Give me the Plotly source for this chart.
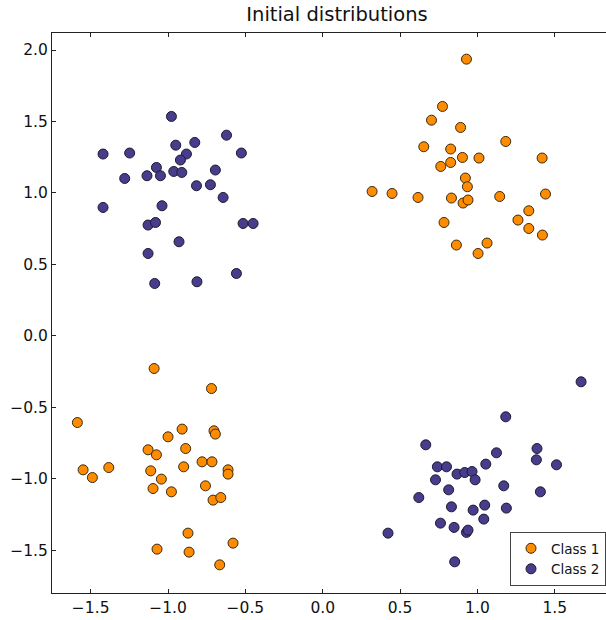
import plotly.graph_objects as go

# Class 1 (orange) points
class1_x = [0.929, 0.774, 0.703, 0.891, 1.183, 0.653, 0.827, 0.903, 1.010, 1.418,
            0.827, 0.763, 0.922, 0.935, 0.319, 0.448, 0.616, 0.832, 0.907, 0.939,
            1.144, 1.440, 1.332, 1.262, 1.332, 1.420, 0.784, 0.864, 1.062, 1.004,
            -1.090, -0.719, -1.586, -0.909, -0.703, -0.694, -1.000, -1.129, -1.075, -0.886,
            -0.780, -0.716, -1.549, -1.383, -1.489, -1.112, -0.899, -0.612, -0.612, -1.043,
            -1.097, -0.978, -0.758, -0.709, -0.659, -0.871, -0.580, -1.071, -0.864, -0.666]
class1_y = [1.936, 1.605, 1.509, 1.458, 1.360, 1.323, 1.307, 1.248, 1.244, 1.244,
            1.213, 1.185, 1.104, 1.043, 1.010, 0.996, 0.968, 0.964, 0.929, 0.950,
            0.975, 0.992, 0.875, 0.810, 0.751, 0.705, 0.793, 0.635, 0.649, 0.576,
            -0.229, -0.369, -0.607, -0.653, -0.665, -0.688, -0.707, -0.798, -0.833, -0.789,
            -0.882, -0.882, -0.938, -0.922, -0.992, -0.945, -0.917, -0.938, -0.968, -1.003,
            -1.069, -1.092, -1.050, -1.150, -1.132, -1.381, -1.451, -1.493, -1.514, -1.603]

# Class 2 (purple) points
class2_x = [-0.978, -0.622, -0.950, -0.827, -1.420, -1.248, -0.526, -0.881, -0.920, -1.075,
            -1.136, -1.049, -0.963, -0.911, -0.694, -1.280, -0.816, -0.726, -0.644, -1.420,
            -1.039, -1.129, -1.081, -0.515, -0.450, -0.929, -1.129, -0.558, -1.086, -0.813,
            1.670, 1.183, 0.666, 1.123, 1.385, 1.381, 1.054, 1.511, 0.741, 0.800,
            0.868, 0.918, 0.965, 0.729, 0.985, 0.814, 1.170, 0.621, 1.407, 0.832,
            1.047, 0.972, 1.187, 0.761, 0.849, 1.041, 0.929, 0.939, 0.422, 0.853]
class2_y = [1.535, 1.404, 1.334, 1.353, 1.272, 1.279, 1.279, 1.272, 1.230, 1.178,
            1.120, 1.120, 1.150, 1.143, 1.160, 1.101, 1.050, 1.057, 0.968, 0.898,
            0.910, 0.775, 0.793, 0.786, 0.786, 0.658, 0.576, 0.436, 0.366, 0.378,
            -0.322, -0.567, -0.763, -0.819, -0.789, -0.868, -0.898, -0.903, -0.917, -0.917,
            -0.968, -0.957, -0.950, -1.008, -1.008, -1.078, -1.050, -1.132, -1.092, -1.197,
            -1.185, -1.220, -1.206, -1.311, -1.341, -1.283, -1.376, -1.360, -1.381, -1.582]

series_names = ["Class 1", "Class 2"]
x_ticks = [-1.5, -1.0, -0.5, 0.0, 0.5, 1.0, 1.5]
y_ticks = [-1.5, -1.0, -0.5, 0.0, 0.5, 1.0, 1.5, 2.0]

FONT = "DejaVu Sans"
AX = "#222222"

fig = go.Figure()
fig.add_trace(go.Scatter(
    x=class1_x, y=class1_y, mode="markers", name=series_names[0],
    marker=dict(size=10, color="#FF8C00", line=dict(color="#3a2a10", width=1)),
))
fig.add_trace(go.Scatter(
    x=class2_x, y=class2_y, mode="markers", name=series_names[1],
    marker=dict(size=10, color="#483D8B", line=dict(color="#1a1a33", width=1)),
))
# invisible trace to register the top axis
fig.add_trace(go.Scatter(x=[None], y=[None], xaxis="x2", showlegend=False, hoverinfo="skip"))

axis_common = dict(
    showline=True, linecolor=AX, linewidth=1,
    ticks="inside", ticklen=4, tickcolor=AX, tickwidth=1,
    showgrid=False, zeroline=False, automargin=False,
    tickfont=dict(family=FONT, size=15.5, color="#111111"),
)

fig.update_layout(
    width=606, height=620,
    margin=dict(l=52, r=0, t=33, b=27, autoexpand=False),
    paper_bgcolor="white", plot_bgcolor="white",
    title=dict(text="Initial distributions", x=337 / 606, xanchor="center",
               xref="container", y=1 - 14 / 620, yanchor="middle", yref="container",
               font=dict(family=FONT, size=19.5, color="#111111")),
    xaxis=dict(range=[-1.75, 1.831], tickvals=x_ticks, tickformat=".1f", **axis_common),
    xaxis2=dict(overlaying="x", matches="x", side="top", anchor="y",
                showticklabels=False, tickvals=x_ticks, **axis_common),
    yaxis=dict(range=[-1.80, 2.119], tickvals=y_ticks, tickformat=".1f", **axis_common),
    showlegend=True,
    legend=dict(x=1, xanchor="right", y=7 / 560, yanchor="bottom",
                bgcolor="white", bordercolor="#444444", borderwidth=1,
                font=dict(family=FONT, size=13.5, color="#111111"),
                tracegroupgap=0),
)

fig.write_html("out.html", config={"displayModeBar": False},
               post_script="document.body.style.margin='0';document.body.style.overflow='hidden';")
